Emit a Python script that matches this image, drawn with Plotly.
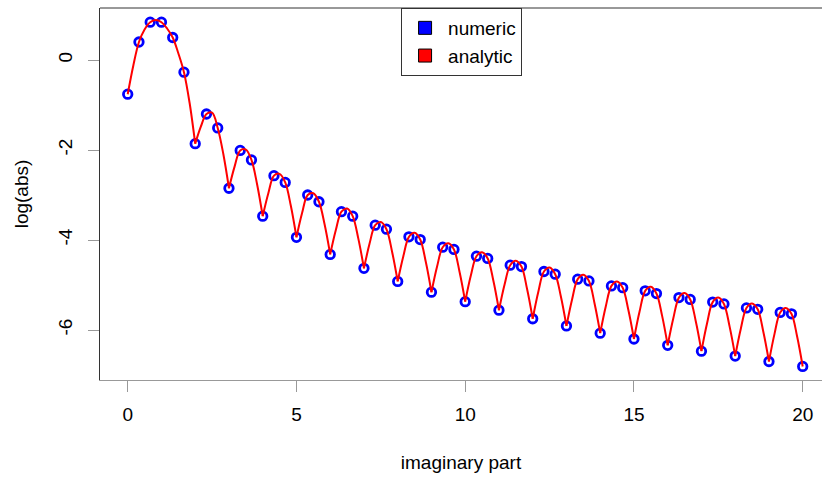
import plotly.graph_objects as go

# ---- data ----
numeric_y = [
    -0.76, 0.40, 0.84, 0.84, 0.50, -0.27,
    -1.86, -1.20, -1.51, -2.85, -2.01, -2.22,
    -3.47, -2.57, -2.72, -3.94, -3.00, -3.15,
    -4.32, -3.37, -3.47, -4.63, -3.67, -3.76,
    -4.92, -3.93, -3.99, -5.16, -4.16, -4.21,
    -5.37, -4.36, -4.41, -5.56, -4.56, -4.59,
    -5.75, -4.70, -4.76, -5.91, -4.87, -4.91,
    -6.07, -5.02, -5.06, -6.20, -5.13, -5.19,
    -6.34, -5.28, -5.32, -6.47, -5.38, -5.42,
    -6.58, -5.51, -5.54, -6.70, -5.61, -5.64,
    -6.81,
]
numeric_x = [k / 3 for k in range(len(numeric_y))]

analytic_y = [
    -0.76, -0.12, 0.40, 0.68, 0.84, 0.89, 0.84, 0.70, 0.50, 0.15, -0.27, -0.95, -1.86,
    -1.48, -1.20, -1.17, -1.51, -2.09, -2.85,
    -2.37, -2.01, -1.99, -2.22, -2.76, -3.47,
    -2.96, -2.57, -2.53, -2.72, -3.24, -3.94,
    -3.40, -3.00, -2.96, -3.15, -3.65, -4.32,
    -3.78, -3.37, -3.30, -3.47, -3.97, -4.63,
    -4.08, -3.67, -3.60, -3.76, -4.26, -4.92,
    -4.36, -3.93, -3.84, -3.99, -4.49, -5.16,
    -4.59, -4.16, -4.07, -4.21, -4.71, -5.37,
    -4.79, -4.36, -4.27, -4.41, -4.90, -5.56,
    -4.99, -4.56, -4.46, -4.59, -5.09, -5.75,
    -5.15, -4.70, -4.61, -4.76, -5.25, -5.91,
    -5.32, -4.87, -4.77, -4.91, -5.41, -6.07,
    -5.47, -5.02, -4.92, -5.06, -5.55, -6.20,
    -5.59, -5.13, -5.04, -5.19, -5.68, -6.34,
    -5.74, -5.28, -5.18, -5.32, -5.81, -6.47,
    -5.85, -5.38, -5.28, -5.42, -5.92, -6.58,
    -5.97, -5.51, -5.41, -5.54, -6.04, -6.70,
    -6.08, -5.61, -5.51, -5.64, -6.14, -6.81,
]
analytic_x = [k / 6 for k in range(len(analytic_y))]

x_tick_vals = [0, 5, 10, 15, 20]
x_tick_text = ["0", "5", "10", "15", "20"]
y_tick_vals = [-6, -4, -2, 0]
y_tick_text = ["-6", "-4", "-2", "0"]

# split analytic curve at the cusps (integer x >= 2) so the spline keeps sharp dips
seg_x, seg_y = [], []
for i, (xv, yv) in enumerate(zip(analytic_x, analytic_y)):
    seg_x.append(xv)
    seg_y.append(yv)
    if i % 6 == 0 and i >= 12 and i < len(analytic_y) - 1:
        seg_x += [None, xv]
        seg_y += [None, yv]

FONT = "Liberation Sans, Arial, sans-serif"

fig = go.Figure()
fig.add_trace(go.Scatter(
    x=numeric_x, y=numeric_y, mode="markers", showlegend=False,
    marker=dict(symbol="circle-open", size=8.5, color="#0000FF",
                line=dict(color="#0000FF", width=2.8)),
))
fig.add_trace(go.Scatter(
    x=seg_x, y=seg_y, mode="lines", showlegend=False, connectgaps=False,
    line=dict(color="#FF0000", width=2, shape="spline", smoothing=1),
))
# legend entries (filled boxes as in the original)
fig.add_trace(go.Scatter(
    x=[None], y=[None], mode="markers", name="numeric",
    marker=dict(symbol="square", size=13, color="#0000FF", line=dict(color="black", width=1)),
))
fig.add_trace(go.Scatter(
    x=[None], y=[None], mode="markers", name="analytic",
    marker=dict(symbol="square", size=13, color="#FF0000", line=dict(color="black", width=1)),
))

fig.update_layout(
    width=822, height=477,
    margin=dict(l=100, r=0, t=8, b=97),
    paper_bgcolor="white", plot_bgcolor="white",
    font=dict(family=FONT, size=19, color="black"),
    showlegend=True,
    legend=dict(x=0.417, y=1, xanchor="left", yanchor="top", itemwidth=36,
                entrywidth=90, entrywidthmode="pixels",
                bordercolor="#333333", borderwidth=1, bgcolor="white",
                font=dict(family=FONT, size=19, color="black")),
    xaxis=dict(
        range=[-0.821, 20.572], tickmode="array", tickvals=x_tick_vals, ticktext=x_tick_text,
        ticks="outside", ticklen=11, tickcolor="#999999", tickwidth=1,
        ticklabelstandoff=6,
        showline=True, linecolor="#999999", linewidth=1, mirror=False,
        showgrid=False, zeroline=False,
        tickfont=dict(family=FONT, size=19, color="black"),
        title=dict(text="imaginary part", font=dict(family=FONT, size=19, color="black"), standoff=31),
    ),
    yaxis=dict(
        range=[-7.111, 1.156], tickmode="array", tickvals=y_tick_vals, ticktext=y_tick_text,
        tickangle=-90,
        ticks="outside", ticklen=11, tickcolor="#999999", tickwidth=1,
        ticklabelstandoff=8,
        showline=True, linecolor="#333333", linewidth=1, mirror=False,
        showgrid=False, zeroline=False,
        tickfont=dict(family=FONT, size=19, color="black"),
        title=dict(text="log(abs)", font=dict(family=FONT, size=19, color="black"), standoff=21),
    ),
    shapes=[dict(type="line", xref="paper", yref="paper", x0=0, x1=1, y0=1, y1=1,
                 line=dict(color="#333333", width=1))],
)

fig.write_html("out.html")
